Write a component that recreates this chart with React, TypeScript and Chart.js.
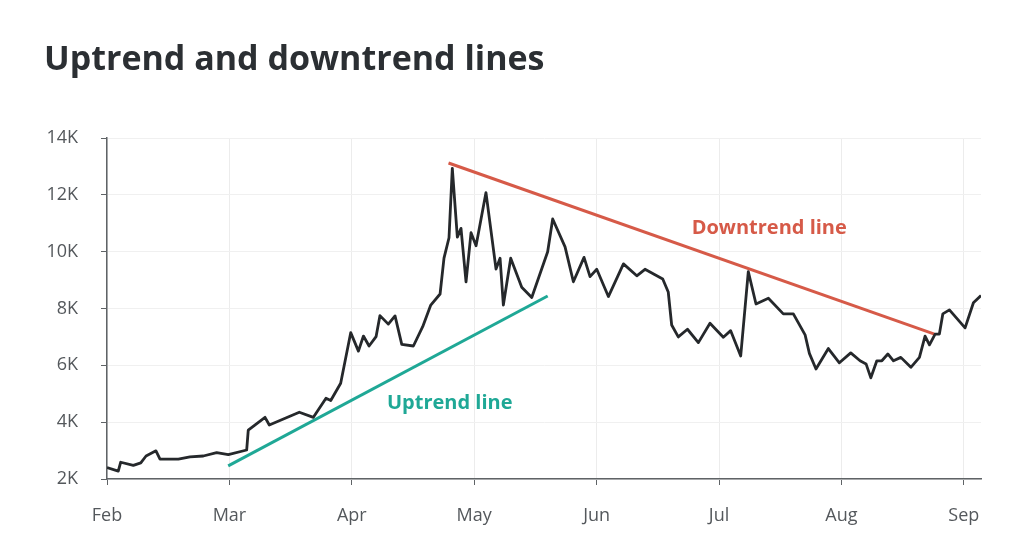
import React, { useEffect, useRef } from "react";
import { Chart, registerables } from "chart.js";

Chart.register(...registerables);

// x values are in months since Feb 1 (0 = Feb, 1 = Mar, ...)
const monthLabels = ["Feb", "Mar", "Apr", "May", "Jun", "Jul", "Aug", "Sep"];
const yTickValues = [2000, 4000, 6000, 8000, 10000, 12000, 14000];

const priceX = [
  0.0, 0.092, 0.112, 0.215, 0.276, 0.319, 0.4, 0.433, 0.583, 0.678,
  0.787, 0.896, 0.991, 1.141, 1.154, 1.291, 1.326, 1.571, 1.686, 1.789,
  1.828, 1.909, 1.991, 2.054, 2.095, 2.141, 2.198, 2.23, 2.298, 2.353,
  2.408, 2.503, 2.579, 2.645, 2.721, 2.753, 2.794, 2.821, 2.862, 2.892,
  2.933, 2.974, 3.015, 3.096, 3.178, 3.211, 3.238, 3.298, 3.388, 3.47,
  3.6, 3.641, 3.742, 3.81, 3.897, 3.946, 4.001, 4.096, 4.219, 4.328,
  4.395, 4.54, 4.585, 4.613, 4.667, 4.742, 4.831, 4.926, 5.035, 5.095,
  5.177, 5.239, 5.302, 5.403, 5.525, 5.607, 5.703, 5.738, 5.792, 5.893,
  5.983, 6.076, 6.152, 6.201, 6.24, 6.289, 6.33, 6.379, 6.425, 6.485,
  6.567, 6.637, 6.683, 6.719, 6.765, 6.8, 6.828, 6.882, 7.01, 7.078, 7.14,
];
const priceY = [
  2400, 2280, 2590, 2480, 2570, 2810, 2990, 2700, 2700, 2780,
  2810, 2930, 2860, 3020, 3720, 4170, 3900, 4350, 4170, 4840,
  4760, 5370, 7150, 6500, 7030, 6680, 7010, 7750, 7450, 7740,
  6740, 6680, 7360, 8120, 8510, 9770, 10490, 12930, 10510, 10820,
  8940, 10670, 10210, 12080, 9390, 9770, 8120, 9770, 8750, 8390,
  10000, 11150, 10170, 8940, 9800, 9120, 9380, 8420, 9570, 9150,
  9380, 9040, 8580, 7420, 7000, 7270, 6800, 7480, 6990, 7220,
  6330, 9300, 8160, 8360, 7810, 7810, 7070, 6420, 5870, 6590,
  6090, 6440, 6160, 6050, 5560, 6160, 6160, 6400, 6160, 6280,
  5930, 6280, 7030, 6720, 7100, 7100, 7810, 7950, 7320, 8200, 8460,
];

const uptrendX = [0.99, 3.6];
const uptrendY = [2460, 8440];
const downtrendX = [2.79, 6.76];
const downtrendY = [13120, 7100];

const labelTexts = ["Uptrend line", "Downtrend line"];
const labelX = [2.8, 5.41];
const labelY = [4660, 10820];

const titleText = "Uptrend and downtrend lines";

const TEAL = "#1fa896";
const RED = "#d65a48";
const DARK = "#25282b";
const AXIS = "#5f6366";
const FONT = "'Open Sans', 'Noto Sans', sans-serif";

const textPlugin = {
  id: "textPlugin",
  afterDatasetsDraw(chart: any) {
    const { ctx, scales } = chart;
    ctx.save();
    const colors = [TEAL, RED];
    labelTexts.forEach((t, i) => {
      ctx.font = `bold 20px ${FONT}`;
      ctx.fillStyle = colors[i];
      ctx.textAlign = "center";
      ctx.textBaseline = "middle";
      ctx.fillText(t, scales.x.getPixelForValue(labelX[i]), scales.y.getPixelForValue(labelY[i]));
    });
    ctx.font = `bold 34px ${FONT}`;
    ctx.fillStyle = "#2b2f33";
    ctx.textAlign = "left";
    ctx.textBaseline = "alphabetic";
    ctx.fillText(titleText, 44, 70);
    ctx.restore();
  },
};

export default function App() {
  const ref = useRef<HTMLCanvasElement>(null);
  useEffect(() => {
    if (!ref.current) return;
    const chart = new Chart(ref.current, {
      type: "line",
      data: {
        datasets: [
          {
            data: priceX.map((x, i) => ({ x, y: priceY[i] })),
            borderColor: DARK,
            borderWidth: 2.8,
            pointRadius: 0,
            tension: 0,
            borderJoinStyle: "round",
          },
          {
            data: uptrendX.map((x, i) => ({ x, y: uptrendY[i] })),
            borderColor: TEAL,
            borderWidth: 3,
            pointRadius: 0,
          },
          {
            data: downtrendX.map((x, i) => ({ x, y: downtrendY[i] })),
            borderColor: RED,
            borderWidth: 3,
            pointRadius: 0,
          },
        ],
      },
      options: {
        responsive: false,
        animation: false,
        layout: { padding: { top: 138, left: 0, right: 43, bottom: 0 } },
        plugins: { legend: { display: false }, tooltip: { enabled: false }, title: { display: false } },
        scales: {
          x: {
            type: "linear",
            min: 0,
            max: 7.14,
            afterFit: (s: any) => { s.height = 68; },
            afterBuildTicks: (s: any) => { s.ticks = monthLabels.map((_, i) => ({ value: i })); },
            ticks: {
              callback: (v: any) => monthLabels[Math.round(v)] ?? "",
              color: "#54585c",
              font: { family: FONT, size: 18 },
              padding: 20,
              maxRotation: 0,
            },
            grid: { color: "#ececec", lineWidth: 1, tickColor: AXIS, tickLength: 6 },
            border: { color: AXIS, width: 1.5 },
          },
          y: {
            min: 2000,
            max: 14000,
            afterFit: (s: any) => { s.width = 107; },
            afterBuildTicks: (s: any) => { s.ticks = yTickValues.map((v) => ({ value: v })); },
            ticks: {
              callback: (v: any) => `${Math.round(v / 1000)}K`,
              color: "#54585c",
              font: { family: FONT, size: 18 },
              padding: 23,
            },
            grid: { color: "#f0f0f0", lineWidth: 1, tickColor: AXIS, tickLength: 6 },
            border: { color: AXIS, width: 1.5 },
          },
        },
      },
      plugins: [textPlugin],
    });
    return () => chart.destroy();
  }, []);
  return (
    <div style={{ position: "absolute", left: 0, top: 0, width: 1024, height: 547, background: "#fff" }}>
      <canvas ref={ref} width={1024} height={547} />
    </div>
  );
}
